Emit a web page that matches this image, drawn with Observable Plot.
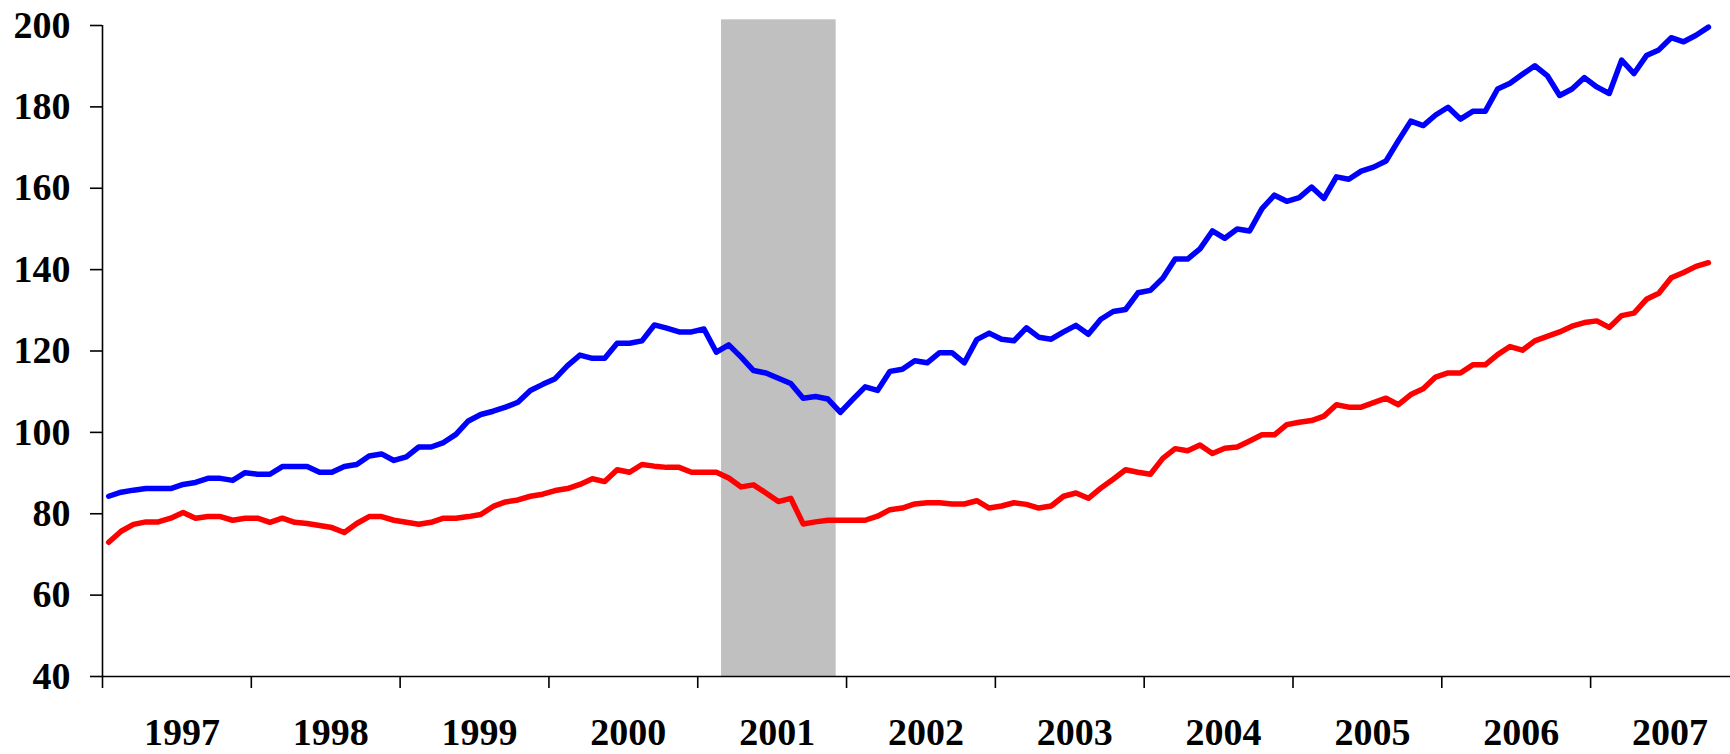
<!DOCTYPE html>
<html>
<head>
<meta charset="utf-8">
<script src="https://cdn.jsdelivr.net/npm/d3@7"></script>
<script src="https://cdn.jsdelivr.net/npm/@observablehq/plot@0.6"></script>
<style>
  html, body { margin: 0; padding: 0; background: #fff; }
  #chart { width: 1730px; height: 754px; overflow: hidden; }
</style>
</head>
<body>
<div id="chart"></div>
<script>
// Monthly series, January 1997 through October 2007
const startYear = 1997;
const upperSeries = [
  84.3, 85.3, 85.8, 86.2, 86.2, 86.2, 87.2, 87.7, 88.7, 88.7, 88.2, 90.1,
  89.7, 89.7, 91.6, 91.6, 91.6, 90.2, 90.2, 91.6, 92.1, 94.2, 94.7, 93.1,
  94.0, 96.4, 96.4, 97.5, 99.5, 102.8, 104.4, 105.2, 106.2, 107.4, 110.3, 111.8,
  113.2, 116.4, 119.0, 118.2, 118.2, 121.9, 121.9, 122.5, 126.4, 125.6, 124.7, 124.7,
  125.4, 119.7, 121.5, 118.5, 115.2, 114.6, 113.3, 112.0, 108.4, 108.8, 108.2, 104.9,
  108.1, 111.2, 110.3, 115.0, 115.5, 117.6, 117.1, 119.6, 119.6, 117.1, 122.8, 124.4,
  122.9, 122.5, 125.7, 123.4, 122.9, 124.7, 126.3, 124.1, 127.8, 129.7, 130.2, 134.3,
  134.9, 137.9, 142.6, 142.6, 145.1, 149.5, 147.7, 150.0, 149.5, 155.0, 158.3, 156.8,
  157.7, 160.3, 157.5, 162.8, 162.2, 164.2, 165.2, 166.7, 171.7, 176.5, 175.4, 178.0,
  179.9, 177.0, 178.9, 178.9, 184.4, 185.8, 188.0, 190.1, 187.7, 182.8, 184.4, 187.2,
  184.9, 183.3, 191.5, 188.2, 192.6, 194.0, 197.0, 196.0, 197.6, 199.6
];
const lowerSeries = [
  73.0, 75.7, 77.4, 78.0, 78.0, 78.9, 80.3, 78.9, 79.3, 79.3, 78.4, 78.9,
  78.9, 77.9, 78.9, 77.9, 77.6, 77.1, 76.6, 75.4, 77.6, 79.3, 79.3, 78.4,
  77.9, 77.4, 77.9, 78.9, 78.9, 79.3, 79.8, 81.8, 82.9, 83.4, 84.3, 84.8,
  85.7, 86.2, 87.2, 88.6, 87.9, 90.8, 90.2, 92.1, 91.7, 91.4, 91.4, 90.2,
  90.2, 90.2, 88.8, 86.6, 87.1, 85.1, 83.0, 83.8, 77.5, 78.0, 78.4, 78.4,
  78.4, 78.4, 79.4, 81.0, 81.4, 82.4, 82.7, 82.7, 82.4, 82.4, 83.2, 81.4,
  81.9, 82.7, 82.3, 81.4, 81.9, 84.3, 85.1, 83.8, 86.3, 88.5, 90.8, 90.2,
  89.7, 93.6, 96.0, 95.5, 96.9, 94.8, 96.1, 96.4, 97.9, 99.4, 99.4, 101.9,
  102.5, 102.9, 104.0, 106.8, 106.2, 106.2, 107.3, 108.4, 106.8, 109.3, 110.7, 113.6,
  114.6, 114.6, 116.6, 116.6, 119.1, 121.1, 120.2, 122.5, 123.6, 124.7, 126.1, 127.0,
  127.4, 125.8, 128.7, 129.3, 132.7, 134.2, 138.0, 139.3, 140.8, 141.7
];
const yearTicks = [1997, 1998, 1999, 2000, 2001, 2002, 2003, 2004, 2005, 2006, 2007];
const yearLabels = ["1997", "1998", "1999", "2000", "2001", "2002", "2003", "2004", "2005", "2006", "2007"];
const yTicks = [40, 60, 80, 100, 120, 140, 160, 180, 200];
const recession = [{start: 2001.16, end: 2001.93, low: 40, high: 201.4}];

// month index -> decimal year at mid-month
const toRows = (vals, name) => vals.map((v, i) => ({t: startYear + (i + 0.5) / 12, v, name}));
const upperRows = toRows(upperSeries, "upper");
const lowerRows = toRows(lowerSeries, "lower");
const labelRows = yearTicks.map((y, i) => ({t: y + 0.5, label: yearLabels[i]}));

const font = "'Liberation Serif', 'Times New Roman', serif";

const chart = Plot.plot({
  width: 1730,
  height: 754,
  marginLeft: 102,
  marginRight: 0,
  marginTop: 25,
  marginBottom: 78,
  style: {fontFamily: font, fontSize: "38px", fontWeight: "bold", background: "#fff", color: "#000"},
  x: {type: "linear", domain: [1997, 2007.94], axis: null},
  y: {domain: [40, 200], axis: null},
  marks: [
    Plot.rect(recession, {x1: "start", x2: "end", y1: "low", y2: "high", fill: "#c0c0c0", clip: false}),
    Plot.line(upperRows, {x: "t", y: "v", stroke: "#0000ff", strokeWidth: 5.5, strokeLinejoin: "round", strokeLinecap: "round"}),
    Plot.line(lowerRows, {x: "t", y: "v", stroke: "#ff0000", strokeWidth: 5.5, strokeLinejoin: "round", strokeLinecap: "round"}),
    Plot.ruleY([40], {stroke: "#000", strokeWidth: 1.6}),
    Plot.ruleX([1997], {y1: 40, y2: 200, stroke: "#000", strokeWidth: 1.6}),
    Plot.axisY({ticks: yTicks, anchor: "left", tickSize: 12, tickPadding: 20, strokeWidth: 1.6,
      fontSize: 38, fontWeight: "bold", fontFamily: font, tickFormat: d => String(d)}),
    Plot.axisX({ticks: yearTicks, anchor: "bottom", tickSize: 12, strokeWidth: 1.6, tickFormat: () => ""}),
    Plot.text(labelRows, {x: "t", text: "label", frameAnchor: "bottom", lineAnchor: "middle", dy: 56, dx: 5,
      fontSize: 38, fontWeight: "bold", fontFamily: font, fill: "#000"})
  ]
});
document.getElementById("chart").appendChild(chart);
</script>
</body>
</html>
